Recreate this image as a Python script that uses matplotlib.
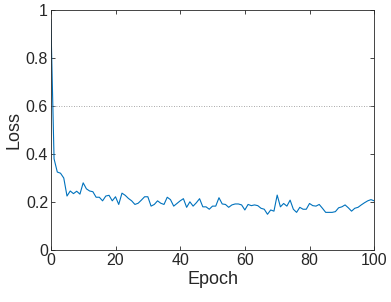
import matplotlib
matplotlib.use("Agg")
import matplotlib.pyplot as plt
import numpy as np

plt.rcParams['font.family'] = ['Liberation Sans', 'DejaVu Sans']

# loss per epoch
epochs = np.arange(0, 101)
loss = [0.96, 0.38, 0.325, 0.32, 0.30, 0.225, 0.246, 0.235, 0.245, 0.233,
        0.28, 0.255, 0.246, 0.243, 0.22, 0.22, 0.205, 0.225, 0.228, 0.205,
        0.222, 0.19, 0.237, 0.228, 0.215, 0.205, 0.19, 0.195, 0.208, 0.222,
        0.222, 0.183, 0.19, 0.205, 0.195, 0.19, 0.22, 0.21, 0.183, 0.194,
        0.205, 0.214, 0.178, 0.201, 0.183, 0.197, 0.214, 0.18, 0.18, 0.17,
        0.183, 0.183, 0.218, 0.192, 0.19, 0.178, 0.188, 0.192, 0.192, 0.188,
        0.167, 0.19, 0.185, 0.188, 0.185, 0.174, 0.17, 0.149, 0.167, 0.162,
        0.229, 0.18, 0.194, 0.183, 0.208, 0.17, 0.157, 0.178, 0.17, 0.17,
        0.194, 0.185, 0.183, 0.19, 0.174, 0.157, 0.157, 0.157, 0.16, 0.176,
        0.18, 0.188, 0.176, 0.162, 0.174, 0.178, 0.188, 0.197, 0.205, 0.21,
        0.205]
ref_level = 0.6

xticks = [0, 20, 40, 60, 80, 100]
yticks = [0, 0.2, 0.4, 0.6, 0.8, 1]
ytick_labels = ["0", "0.2", "0.4", "0.6", "0.8", "1"]

fig = plt.figure(figsize=(3.91, 3.02), dpi=100)
ax = fig.add_axes([0.130, 0.172, 0.827, 0.795])

ax.plot(epochs, loss, color=(0, 0.447, 0.741), lw=0.8)
ax.axhline(ref_level, color=(0.55, 0.55, 0.55), lw=0.6, ls=(0, (1, 2)))

grey = (0.15, 0.15, 0.15)
ax.set_xlim(0, 100)
ax.set_ylim(0, 1)
ax.set_xticks(xticks)
ax.set_yticks(yticks)
ax.set_yticklabels(ytick_labels)
ax.set_xlabel("Epoch", fontsize=13, color=grey, labelpad=2)
ax.set_ylabel("Loss", fontsize=13, color=grey, labelpad=2)

for s in ax.spines.values():
    s.set_color(grey)
    s.set_linewidth(0.6)
ax.tick_params(direction='in', top=True, right=True, length=3, width=0.6,
               colors=grey, labelsize=11.5, pad=2)

fig.savefig("out.png", dpi=100)
